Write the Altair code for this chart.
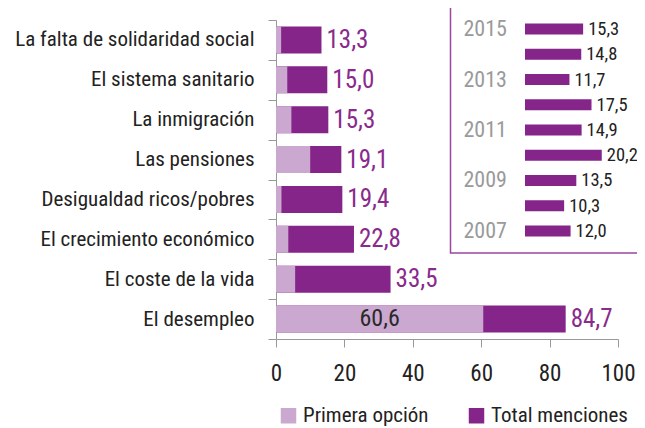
import altair as alt
import pandas as pd

# ---- data ----
categories = [
    "La falta de solidaridad social",
    "El sistema sanitario",
    "La inmigración",
    "Las pensiones",
    "Desigualdad ricos/pobres",
    "El crecimiento económico",
    "El coste de la vida",
    "El desempleo",
]
primera = [1.5, 3.3, 4.5, 10.0, 1.6, 3.6, 5.6, 60.6]
total = [13.3, 15.0, 15.3, 19.1, 19.4, 22.8, 33.5, 84.7]

years = ["2015", "2014", "2013", "2012", "2011", "2010", "2009", "2008", "2007"]
year_values = [15.3, 14.8, 11.7, 17.5, 14.9, 20.2, 13.5, 10.3, 12.0]
year_ticks = ["2015", "2013", "2011", "2009", "2007"]

series = ["Primera opción", "Total menciones"]
colors = ["#CBA8CF", "#85258A"]

FONT = "Roboto Condensed, Liberation Sans Narrow, Roboto, sans-serif"


def fmt(v):
    return f"{v:.1f}".replace(".", ",")


rows = []
for c, t in zip(categories, total):
    rows.append({"cat": c, "serie": series[1], "val": t})
for c, p in zip(categories, primera):
    rows.append({"cat": c, "serie": series[0], "val": p})
bars_df = pd.DataFrame(rows)

tot_df = pd.DataFrame({"cat": categories, "val": total, "lab": [fmt(v) for v in total]})
first_df = pd.DataFrame(
    {"cat": [categories[-1]], "mid": [primera[-1] / 2], "lab": [fmt(primera[-1])]}
)
inset_df = pd.DataFrame(
    {"year": years, "val": year_values, "lab": [fmt(v) for v in year_values]}
)

ysc = alt.Y(
    "cat:N",
    sort=categories,
    title=None,
    scale=alt.Scale(paddingInner=0, paddingOuter=0),
    axis=alt.Axis(
        tickBand="extent",
        tickSize=8,
        tickColor="#999999",
        domainColor="#999999",
        labelPadding=14,
        labelFont=FONT,
        labelFontSize=21,
        labelColor="#222222",
        labelLimit=400,
        grid=False,
    ),
)
xsc = alt.X(
    "val:Q",
    title=None,
    stack=None,
    scale=alt.Scale(domain=[0, 100], nice=False),
    axis=alt.Axis(
        values=[0, 20, 40, 60, 80, 100],
        tickSize=8,
        tickColor="#999999",
        domainColor="#999999",
        labelPadding=15,
        labelFlush=False,
        labelFont=FONT,
        labelFontSize=23,
        labelColor="#222222",
        grid=False,
    ),
)

bars = (
    alt.Chart(bars_df)
    .mark_bar(size=27)
    .encode(
        x=xsc,
        y=ysc,
        color=alt.Color(
            "serie:N",
            scale=alt.Scale(domain=series, range=colors),
            legend=alt.Legend(
                title=None,
                orient="none",
                legendX=2,
                legendY=385,
                direction="horizontal",
                symbolType="square",
                symbolSize=240,
                symbolStrokeWidth=0,
                labelFont=FONT,
                labelFontSize=21,
                labelColor="#222222",
                labelOffset=4,
                columnPadding=37,
                padding=0,
                labelLimit=300,
            ),
        ),
    )
)

tot_text = (
    alt.Chart(tot_df)
    .mark_text(align="left", baseline="middle", dx=5, font=FONT, fontSize=25, color="#8A2A8C")
    .encode(x=alt.X("val:Q", stack=None), y=alt.Y("cat:N", sort=categories), text="lab:N")
)

first_text = (
    alt.Chart(first_df)
    .mark_text(align="center", baseline="middle", font=FONT, fontSize=24, color="#2a2a2a")
    .encode(x="mid:Q", y=alt.Y("cat:N", sort=categories), text="lab:N")
)

main = alt.layer(bars, tot_text, first_text)

# ---- inset ----
ix = alt.X("val:Q", stack=None, scale=alt.Scale(domain=[0, 25], range=[249, 344], nice=False), axis=None)
iy = alt.Y(
    "year:O",
    sort=years,
    title=None,
    scale=alt.Scale(range=[-3.6, 223.6], paddingInner=0, paddingOuter=0),
    axis=alt.Axis(
        orient="right",
        offset=-155,
        values=year_ticks,
        ticks=False,
        tickSize=0,
        domain=False,
        labelPadding=0,
        labelAlign="left",
        labelFont=FONT,
        labelFontSize=22,
        labelColor="#9a9a9a",
        grid=False,
    ),
)

frame = (
    alt.Chart(pd.DataFrame({"k": [0]}))
    .mark_rect(fillOpacity=0, stroke="#9C46A0", strokeWidth=1.5)
    .encode(x=alt.value(174.5), x2=alt.value(420), y=alt.value(-13), y2=alt.value(233))
)

inset_bars = alt.Chart(inset_df).mark_bar(size=11, color="#85258A").encode(x=ix, y=iy)
inset_text = (
    alt.Chart(inset_df)
    .mark_text(align="left", baseline="middle", dx=5, font=FONT, fontSize=18.5, color="#222222")
    .encode(x=ix, y=iy, text="lab:N")
)

inset = alt.layer(frame, inset_bars, inset_text)

chart = (
    alt.layer(main, inset)
    .resolve_scale(x="independent", y="independent")
    .properties(
        width=342,
        height=319,
        autosize=alt.AutoSizeParams(type="none"),
        padding={"left": 268, "top": 12, "right": 19, "bottom": 89},
        background="white",
    )
    .configure_view(stroke=None)
)

chart.save("out.html", embed_options={"renderer": "svg", "actions": False})
